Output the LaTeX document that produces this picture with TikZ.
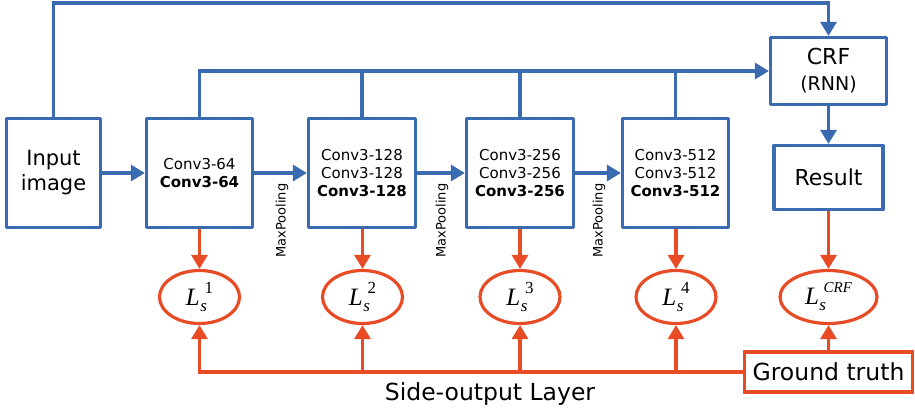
\documentclass[tikz,border=0pt]{standalone}
\usepackage{fontspec}
\setmainfont{DejaVu Sans}
\newfontfamily\tms{Liberation Serif}
\usetikzlibrary{arrows.meta,shapes.geometric}
\definecolor{netblue}{RGB}{58,106,176}
\definecolor{lossred}{RGB}{232,76,38}
% loss symbol: L with subscript s and superscript #1 (font of the superscript in #2)
\newcommand{\losssym}[2]{{\fontsize{25}{25}\selectfont\tms\itshape L}\kern0.5pt\rlap{\raisebox{-6pt}{\fontsize{17}{17}\selectfont\tms\itshape s}}\raisebox{12pt}{\fontsize{17}{17}\selectfont\tms#2 #1}}
\begin{document}
\begin{tikzpicture}[x=1pt,y=-1pt,
  blk/.style={draw=netblue,line width=3.2pt,fill=white,inner sep=0pt,align=center,line join=round},
  convbox/.style={blk,minimum width=106pt,minimum height=109pt,font=\fontsize{15}{18}\selectfont},
  lossnode/.style={ellipse,draw=lossred,line width=3.2pt,inner sep=0pt,minimum width=80pt,minimum height=53pt},
  bluearrow/.style={draw=netblue,line width=3.2pt,-{Triangle[length=14pt,width=16pt]}},
  blueline/.style={draw=netblue,line width=3.2pt},
  redarrow/.style={draw=lossred,line width=3.2pt,-{Triangle[length=14pt,width=16pt]}},
  pool/.style={rotate=90,font=\fontsize{13}{13}\selectfont,inner sep=0pt}
]
\useasboundingbox (0,0) rectangle (915,410);

% network blocks
\node[blk,minimum width=94pt,minimum height=109pt,font=\fontsize{21}{25}\selectfont] (in) at (53.5,173) {Input\\image};
\node[convbox] (c1) at (199.5,173) {Conv3-64\\\textbf{Conv3-64}};
\node[convbox,minimum width=107pt] (c2) at (362,173) {Conv3-128\\Conv3-128\\\textbf{Conv3-128}};
\node[convbox,minimum width=107pt] (c3) at (520,173) {Conv3-256\\Conv3-256\\\textbf{Conv3-256}};
\node[convbox] (c4) at (675.5,173) {Conv3-512\\Conv3-512\\\textbf{Conv3-512}};
\node[blk,minimum width=116pt,minimum height=67pt,font=\fontsize{22}{26}\selectfont] (crf) at (828.5,71)
  {CRF\\{\fontsize{19}{26}\selectfont (RNN)}};
\node[blk,minimum width=109pt,minimum height=64pt,font=\fontsize{22}{22}\selectfont] (res) at (828.5,177.5) {Result};

% pooling labels
\node[pool] (p1) at (282,220.5) {MaxPooling};
\node[pool] (p2) at (442,220.5) {MaxPooling};
\node[pool] (p3) at (599,220.5) {MaxPooling};

% losses
\node[lossnode] (l1) at (199.5,297) {\losssym{1}{}};
\node[lossnode] (l2) at (362.5,297) {\losssym{2}{}};
\node[lossnode] (l3) at (520,297) {\losssym{3}{}};
\node[lossnode] (l4) at (676,297) {\losssym{4}{}};
\node[lossnode,minimum width=97pt] (lc) at (828.5,297) {\losssym{\fontsize{15}{15}\selectfont CRF}{\itshape}};

\node[draw=lossred,line width=3.2pt,fill=white,inner sep=0pt,minimum width=168pt,minimum height=40pt,font=\fontsize{23.5}{23.5}\selectfont] (gt) at (828.5,372) {Ground truth};
\node[font=\fontsize{23.5}{23.5}\selectfont,anchor=base] (side) at (490,400) {Side-output Layer};

% forward path
\draw[bluearrow] (in) -- (c1);
\draw[bluearrow] (c1) -- (c2);
\draw[bluearrow] (c2) -- (c3);
\draw[bluearrow] (c3) -- (c4);
\draw[bluearrow] (crf.south) -- (res.north);

% skip connections to the CRF
\coordinate (top) at (0,3);
\draw[bluearrow] (in.north) -- (in.north |- top) -| (crf.north);
\draw[bluearrow] (c1.north) |- (crf.west);
\draw[blueline] (c2.north) -- (c2.north |- crf.west);
\draw[blueline] (c3.north) -- (c3.north |- crf.west);
\draw[blueline] (c4.north) -- (c4.north |- crf.west);

% side outputs
\draw[redarrow] (c1) -- (l1);
\draw[redarrow] (c2.south -| l2) -- (l2);
\draw[redarrow] (c3) -- (l3);
\draw[redarrow] (c4.south -| l4) -- (l4);
\draw[redarrow] (res) -- (lc);

% ground truth feed
\draw[redarrow] (gt.west) -| (l1.south);
\draw[redarrow] (l2.south |- gt.west) -- (l2.south);
\draw[redarrow] (l3.south |- gt.west) -- (l3.south);
\draw[redarrow] (l4.south |- gt.west) -- (l4.south);
\draw[redarrow] (gt.north -| lc) -- (lc.south);
\end{tikzpicture}
\end{document}
